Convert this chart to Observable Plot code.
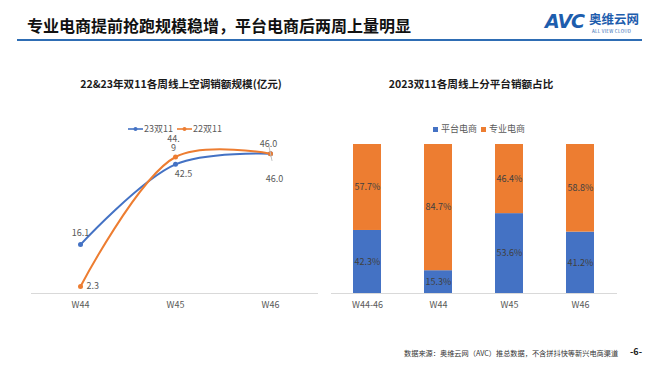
<!DOCTYPE html>
<html>
<head>
<meta charset="utf-8">
<script src="https://cdn.jsdelivr.net/npm/d3@7"></script>
<script src="https://cdn.jsdelivr.net/npm/@observablehq/plot@0.6"></script>
<style>
  html, body { margin: 0; padding: 0; background: #fff; }
  body { width: 660px; height: 372px; position: relative; overflow: hidden;
         font-family: "Noto Sans CJK SC", "Noto Sans", sans-serif; }
  .abs { position: absolute; white-space: nowrap; }
  #title { left: 27px; top: 13px; font-size: 16px; font-weight: bold; color: #111; line-height: 24px; }
  #rule { left: 17px; top: 39px; width: 625px; height: 2px; background: #2E6DB4; }
  #logo-avc { left: 545px; top: 9px; font-size: 19px; font-weight: 900; font-style: italic; color: #1D5DAD; letter-spacing: -1px; line-height: 24px; font-family: "DejaVu Sans", sans-serif; }
  #logo-cn { left: 589px; top: 12px; font-size: 12.5px; font-weight: bold; color: #1D5DAD; line-height: 13px; }
  #logo-en { left: 592px; top: 28.5px; font-size: 4.5px; color: #1D5DAD; line-height: 5px; letter-spacing: 0.3px; }
  .ctitle { top: 76px; font-size: 10.6px; font-weight: bold; color: #1a1a1a; transform: translateX(-50%); line-height: 16px; }
  .legend { top: 124px; display: flex; align-items: center; font-size: 9px; color: #595959; line-height: 10px; }
  .legend .item { display: flex; align-items: center; margin-right: 4px; }
  #footer { left: 404px; top: 347px; font-size: 7.2px; color: #333; line-height: 12px; }
  #page { left: 630px; top: 346px; font-size: 9px; font-weight: bold; color: #222; line-height: 12px; }
  .plot { position: absolute; top: 110px; }
</style>
</head>
<body>
<div id="title" class="abs">专业电商提前抢跑规模稳增，平台电商后两周上量明显</div>
<div id="rule" class="abs"></div>
<div id="logo-avc" class="abs">AVC</div>
<div id="logo-cn" class="abs">奥维云网</div>
<div id="logo-en" class="abs">ALL VIEW CLOUD</div>
<div id="ltitle" class="abs ctitle" style="left:181px">22&amp;23年双11各周线上空调销额规模(亿元)</div>
<div id="rtitle" class="abs ctitle" style="left:471px">2023双11各周线上分平台销额占比</div>
<div id="lplot" class="plot" style="left:0px"></div>
<div id="rplot" class="plot" style="left:330px"></div>
<div id="lleg" class="abs legend" style="left:128px"></div>
<div id="rleg" class="abs legend" style="left:433px"></div>
<div id="footer" class="abs">数据来源：奥维云网（AVC）推总数据，不含拼抖快等新兴电商渠道</div>
<div id="page" class="abs">-6-</div>
<script>
// ---------- data ----------
const weeks = ["W44", "W45", "W46"];
const seriesNames = ["23双11", "22双11"];
const sales23 = [16.1, 42.5, 46.0];
const sales22 = [2.3, 44.9, 46.0];
const seriesColors = ["#4472C4", "#ED7D31"];

const periods = ["W44-46", "W44", "W45", "W46"];
const typeNames = ["平台电商", "专业电商"];
const platformShare = [42.3, 15.3, 53.6, 41.2];
const specialtyShare = [57.7, 84.7, 46.4, 58.8];

const FONT = '"Noto Sans CJK SC", "Noto Sans", sans-serif';
const GRAY = "#595959";
const FS = 9;

// ---------- left legend ----------
const lleg = document.getElementById("lleg");
seriesNames.forEach((name, i) => {
  const it = document.createElement("div");
  it.className = "item";
  it.innerHTML = `<svg width="15" height="8" style="margin-right:1px"><line x1="0" y1="4" x2="15" y2="4" stroke="${seriesColors[i]}" stroke-width="1.6"/><circle cx="7.5" cy="4" r="2" fill="${seriesColors[i]}"/></svg><span>${name}</span>`;
  lleg.appendChild(it);
});
// ---------- right legend ----------
const rleg = document.getElementById("rleg");
typeNames.forEach((name, i) => {
  const it = document.createElement("div");
  it.className = "item";
  it.innerHTML = `<span style="display:inline-block;width:5px;height:5px;background:${seriesColors[i]};margin-right:3px"></span><span>${name}</span>`;
  rleg.appendChild(it);
});

// ---------- left chart ----------
const d23 = weeks.map((w, i) => ({week: w, value: sales23[i], series: seriesNames[0]}));
const d22 = weeks.map((w, i) => ({week: w, value: sales22[i], series: seriesNames[1]}));
const fmt = v => v.toFixed(1);
const wrap = s => s.length > 3 ? s.slice(0, 3) + "\n" + s.slice(3) : s;
const leader = { draw(ctx, l) { ctx.moveTo(0, 0); ctx.lineTo(0, -l); } };

const left = Plot.plot({
  width: 330, height: 208,
  marginLeft: 31, marginRight: 12, marginTop: 31, marginBottom: 25,
  style: {fontFamily: FONT, fontSize: FS + "px", color: GRAY, background: "transparent"},
  x: {type: "point", domain: weeks, padding: 0.5},
  y: {domain: [0, 50], axis: null},
  marks: [
    Plot.ruleY([0], {stroke: "#d9d9d9", strokeWidth: 1}),
    Plot.axisX({tickSize: 0, tickPadding: 8, fontSize: FS, fill: GRAY, label: null}),
    Plot.line(d23, {x: "week", y: "value", stroke: seriesColors[0], strokeWidth: 2, curve: "catmull-rom"}),
    Plot.line(d22, {x: "week", y: "value", stroke: seriesColors[1], strokeWidth: 2, curve: "catmull-rom"}),
    Plot.dot(d23, {x: "week", y: "value", fill: seriesColors[0], r: 2.5}),
    Plot.dot(d22, {x: "week", y: "value", fill: seriesColors[1], r: 2.5}),
    // labels
    Plot.text([d23[0]], {x: "week", y: "value", text: d => fmt(d.value), dy: -11, fill: GRAY, fontSize: FS}),
    Plot.text([d22[0]], {x: "week", y: "value", text: d => fmt(d.value), dx: 6, textAnchor: "start", fill: GRAY, fontSize: FS}),
    Plot.text([d23[1]], {x: "week", y: "value", text: d => fmt(d.value), dx: 8, dy: 10, fill: GRAY, fontSize: FS}),
    Plot.text([d22[1]], {x: "week", y: "value", text: d => wrap(fmt(d.value)), dx: -2, dy: -6, lineAnchor: "bottom", lineHeight: 0.95, fill: GRAY, fontSize: FS}),
    Plot.text([d22[2]], {x: "week", y: "value", text: d => fmt(d.value), dx: -2, dy: -10, fill: GRAY, fontSize: FS}),
    Plot.vector([d23[2]], {x: "week", y: "value", length: 14, rotate: 168, shape: leader, stroke: "#bfbfbf", strokeWidth: 1}),
    Plot.text([d23[2]], {x: "week", y: "value", text: d => fmt(d.value), dx: 4, dy: 25, fill: GRAY, fontSize: FS})
  ]
});
document.getElementById("lplot").appendChild(left);

// ---------- right chart ----------
const shares = [];
periods.forEach((p, i) => {
  shares.push({period: p, type: typeNames[0], value: platformShare[i]});
  shares.push({period: p, type: typeNames[1], value: specialtyShare[i]});
});

const right = Plot.plot({
  width: 330, height: 208,
  marginLeft: 1, marginRight: 43, marginTop: 34, marginBottom: 25,
  style: {fontFamily: FONT, fontSize: FS + "px", color: GRAY, background: "transparent"},
  x: {type: "band", domain: periods, paddingInner: 0.6, paddingOuter: 0.3},
  y: {domain: [0, 100], axis: null},
  color: {domain: typeNames, range: seriesColors},
  marks: [
    Plot.barY(shares, {x: "period", y: "value", fill: "type", z: "type", order: typeNames}),
    Plot.ruleY([0], {stroke: "#d9d9d9", strokeWidth: 1}),
    Plot.axisX({tickSize: 0, tickPadding: 8, fontSize: FS, fill: GRAY, label: null}),
    Plot.text(shares, Plot.stackY({x: "period", y: "value", z: "type", order: typeNames,
      text: d => d.value.toFixed(1) + "%", fill: "#404040", fontSize: FS}))
  ]
});
document.getElementById("rplot").appendChild(right);
</script>
</body>
</html>
